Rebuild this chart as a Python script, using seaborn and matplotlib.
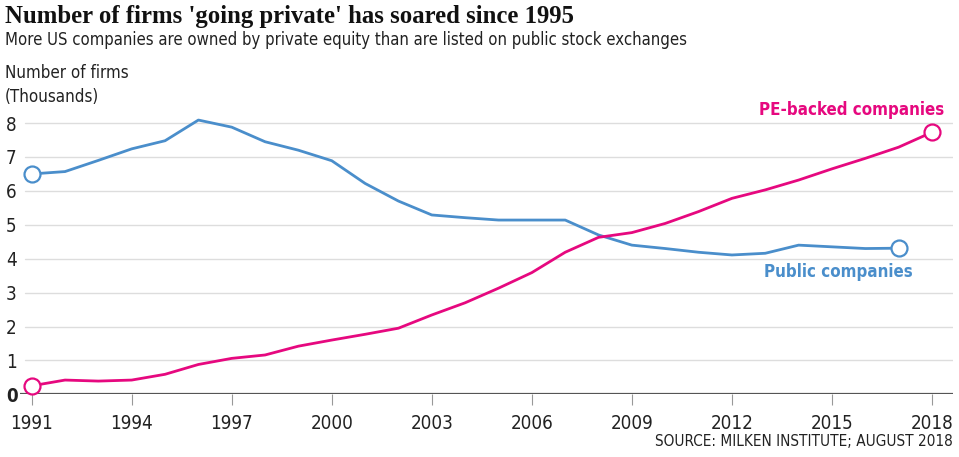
import pandas as pd
import seaborn as sns
import matplotlib.pyplot as plt

years = list(range(1991, 2019))

public_firms = [6.50, 6.57, 6.90, 7.24, 7.48, 8.09, 7.88, 7.45, 7.20, 6.89,
                6.22, 5.70, 5.29, 5.21, 5.14, 5.14, 5.14, 4.70, 4.40, 4.30,
                4.19, 4.11, 4.16, 4.40, 4.35, 4.30, 4.31, None]

pe_firms = [0.25, 0.42, 0.39, 0.42, 0.59, 0.88, 1.06, 1.16, 1.42, 1.60,
            1.77, 1.95, 2.34, 2.70, 3.13, 3.59, 4.19, 4.63, 4.77, 5.04,
            5.39, 5.78, 6.03, 6.32, 6.65, 6.96, 7.29, 7.73]

x_ticks = [1991, 1994, 1997, 2000, 2003, 2006, 2009, 2012, 2015, 2018]
y_ticks = [0, 1, 2, 3, 4, 5, 6, 7, 8]

blue = '#4a8ecb'
pink = '#e6087f'

df = pd.DataFrame({'year': years, 'public': public_firms, 'pe': pe_firms})
df['public'] = df['public'].astype(float)

sns.set_theme(style='white')
plt.rcParams['font.family'] = ['DejaVu Sans']
plt.rcParams['font.stretch'] = 'condensed'

fig = plt.figure(figsize=(9.59, 4.57), dpi=100)
ax = fig.add_axes([20 / 959, (457 - 394.3) / 457, 933 / 959, 8.6 * 33.9 / 457])

sns.lineplot(data=df, x='year', y='public', color=blue, lw=2.0, ax=ax)
sns.lineplot(data=df, x='year', y='pe', color=pink, lw=2.0, ax=ax)

# hollow circles at the ends
pub = df.dropna(subset=['public'])
for xs, ys, c in [([pub['year'].iloc[0], pub['year'].iloc[-1]],
                   [pub['public'].iloc[0], pub['public'].iloc[-1]], blue),
                  ([df['year'].iloc[0], df['year'].iloc[-1]],
                   [df['pe'].iloc[0], df['pe'].iloc[-1]], pink)]:
    ax.plot(xs, ys, 'o', ms=11.5, mfc='white', mec=c, mew=1.6, clip_on=False, zorder=5)

ax.set_xlim(1990.65, 2018.63)
ax.set_ylim(0, 8.6)
ax.set_xlabel('')
ax.set_ylabel('')

for v in y_ticks[1:]:
    ax.axhline(v, xmin=5 / 933, color='#dddddd', lw=1.0, zorder=0)
ax.axhline(0, color='#555555', lw=1.6, zorder=3)

for s in ax.spines.values():
    s.set_visible(False)

ax.set_xticks(x_ticks)
ax.set_xticklabels([str(x) for x in x_ticks], fontsize=13.5, color='#222222')
ax.tick_params(axis='x', length=8, width=0.8, color='#999999', pad=6, bottom=True)
ax.set_yticks(y_ticks)
ax.set_yticklabels([str(v) for v in y_ticks], fontsize=13.5, color='#222222', ha='left')
ax.tick_params(axis='y', length=0, pad=10)
ax.get_yticklabels()[0].set_fontweight('bold')

ax.text(2015.6, 8.39, 'PE-backed companies', color=pink, fontsize=12.2,
        fontweight='bold', ha='center', va='center')
ax.text(2015.18, 3.6, 'Public companies', color=blue, fontsize=12.2,
        fontweight='bold', ha='center', va='center')

fig.text(5 / 959, 1 - 16 / 457, "Number of firms 'going private' has soared since 1995",
         fontsize=17.8, fontweight='bold', family=['Liberation Serif', 'DejaVu Serif'],
         fontstretch='normal', va='center', color='#111111')
fig.text(5 / 959, 1 - 40 / 457,
         'More US companies are owned by private equity than are listed on public stock exchanges',
         fontsize=12, va='center', color='#222222')
fig.text(5 / 959, 1 - 73 / 457, 'Number of firms', fontsize=12.2, va='center', color='#222222')
fig.text(5 / 959, 1 - 97 / 457, '(Thousands)', fontsize=12.2, va='center', color='#222222')
fig.text(953 / 959, 1 - 442 / 457, 'SOURCE: MILKEN INSTITUTE; AUGUST 2018',
         fontsize=11, ha='right', va='center', color='#222222')

fig.savefig('out.png', dpi=100)
